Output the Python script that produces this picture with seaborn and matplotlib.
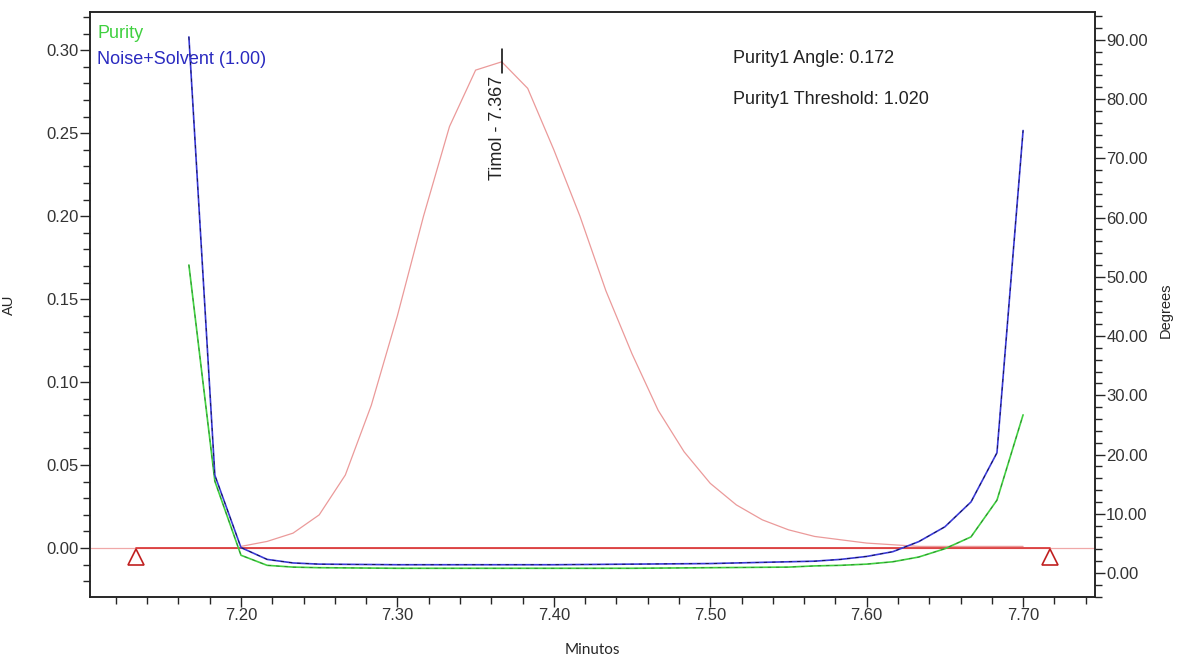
import numpy as np
import pandas as pd
import matplotlib
matplotlib.use("Agg")
import matplotlib.pyplot as plt
from matplotlib.ticker import MultipleLocator, FormatStrFormatter
import seaborn as sns

# chromatogram (AU), sampled every 1/60 min from 7.20
peak_time = [7.2000, 7.2167, 7.2333, 7.2500, 7.2667, 7.2833, 7.3000, 7.3167, 7.3333,
             7.3500, 7.3667, 7.3833, 7.4000, 7.4167, 7.4333, 7.4500, 7.4667, 7.4833,
             7.5000, 7.5167, 7.5333, 7.5500, 7.5667, 7.5833, 7.6000, 7.6167, 7.6333,
             7.6500, 7.6667, 7.6833, 7.7000]
peak_au = [0.001, 0.004, 0.009, 0.020, 0.044, 0.086, 0.140, 0.200, 0.254,
           0.288, 0.293, 0.277, 0.240, 0.200, 0.155, 0.117, 0.083, 0.058,
           0.039, 0.026, 0.017, 0.011, 0.007, 0.005, 0.003, 0.002, 0.001,
           0.001, 0.001, 0.001, 0.001]

# purity / noise curves (degrees)
deg_time = [7.1667, 7.1833, 7.2000, 7.2167, 7.2333, 7.2500, 7.3000, 7.3500, 7.4000,
            7.4500, 7.5000, 7.5500, 7.5667, 7.5833, 7.6000, 7.6167, 7.6333, 7.6500,
            7.6667, 7.6833, 7.7000]
noise_deg = [90.5, 16.5, 4.3, 2.3, 1.7, 1.5, 1.4, 1.4, 1.4,
             1.5, 1.6, 1.9, 2.0, 2.3, 2.8, 3.6, 5.3, 7.8,
             12.0, 20.3, 74.7]
purity_deg = [52.0, 15.5, 3.0, 1.3, 1.0, 0.9, 0.8, 0.8, 0.8,
              0.8, 0.9, 1.0, 1.2, 1.3, 1.5, 1.9, 2.7, 4.1,
              6.1, 12.3, 26.7]

baseline_time = [7.133, 7.717]
baseline_au = [0.0, 0.0]
marker_au = [-0.0055, -0.0055]

peak_label = "Timol - 7.367"
peak_rt = 7.367
purity_angle = 0.172
purity_threshold = 1.020

sns.set_style("ticks")
plt.rcParams["font.family"] = ["Liberation Sans", "DejaVu Sans"]

peak_df = pd.DataFrame({"t": peak_time, "au": peak_au})
deg_df = pd.DataFrame({"t": deg_time, "noise": noise_deg, "purity": purity_deg})

fig = plt.figure(figsize=(11.8, 6.61), dpi=100)
ax = fig.add_axes([0.0763, 0.0968, 0.8517, 0.885])
ax2 = ax.twinx()

# zero line and baseline
ax.axhline(0, color="#f0a8a8", lw=0.9, zorder=1)
ax.plot(baseline_time, baseline_au, color="#d83030", lw=1.2, zorder=2)
ax.plot(baseline_time, marker_au, ls="none", marker="^", ms=12, mfc="none",
        mec="#c02020", mew=1.2, zorder=3)

sns.lineplot(data=peak_df, x="t", y="au", ax=ax, color="#eb9a9a", lw=0.9, zorder=2)

sns.lineplot(data=deg_df, x="t", y="purity", ax=ax2, color="#40d040", lw=1.2)
sns.lineplot(data=deg_df, x="t", y="noise", ax=ax2, color="#3a3ad8", lw=1.2)
ax2.plot(deg_df["t"], deg_df["purity"], color="#205020", lw=0.6, ls=(0, (4, 6)), alpha=0.6)
ax2.plot(deg_df["t"], deg_df["noise"], color="black", lw=0.6, ls=(0, (4, 6)), alpha=0.7)

# limits and ticks
ax.set_xlim(7.1035, 7.746)
ax.set_ylim(-0.0295, 0.323)
ax2.set_ylim(-4.05, 94.7)

ax.xaxis.set_major_locator(MultipleLocator(0.1))
ax.xaxis.set_minor_locator(MultipleLocator(0.02))
ax.xaxis.set_major_formatter(FormatStrFormatter("%.2f"))
ax.yaxis.set_major_locator(MultipleLocator(0.05))
ax.yaxis.set_minor_locator(MultipleLocator(0.01))
ax.yaxis.set_major_formatter(FormatStrFormatter("%.2f"))
ax2.yaxis.set_major_locator(MultipleLocator(10))
ax2.yaxis.set_minor_locator(MultipleLocator(2))
ax2.yaxis.set_major_formatter(FormatStrFormatter("%.2f"))

for a in (ax, ax2):
    a.tick_params(which="major", direction="out", length=7, width=1, labelsize=12,
                  labelcolor="#333333", pad=1)
    a.tick_params(which="minor", direction="out", length=5, width=1)
    for s in a.spines.values():
        s.set_visible(True)
        s.set_linewidth(1.1)
        s.set_color("#222222")

ax.set_xlabel("Minutos", fontsize=11, family=["Lato", "DejaVu Sans"], labelpad=14)
ax.set_ylabel("AU", fontsize=10.5, labelpad=22)
ax2.set_ylabel("Degrees", fontsize=10.5, rotation=90, va="center")
ax2.yaxis.set_label_coords(1.07, 0.49)

# legend-style labels
ax.text(0.007, 0.963, "Purity", transform=ax.transAxes, color="#40d040", fontsize=13, va="center")
ax.text(0.007, 0.919, "Noise+Solvent (1.00)", transform=ax.transAxes, color="#2a2ac0",
        fontsize=13, va="center")

# purity results
ax.text(0.640, 0.920, f"Purity1 Angle: {purity_angle:.3f}", transform=ax.transAxes,
        fontsize=13, color="#222222", va="center")
ax.text(0.640, 0.850, f"Purity1 Threshold: {purity_threshold:.3f}", transform=ax.transAxes,
        fontsize=13, color="#222222", va="center")

# peak label
ax.plot([peak_rt, peak_rt], [0.301, 0.286], color="black", lw=1.1, zorder=4)
ax.text(peak_rt - 0.003, 0.2845, peak_label, rotation=90, ha="center", va="top",
        fontsize=13, color="#222222")

fig.savefig("out.png", dpi=100)
